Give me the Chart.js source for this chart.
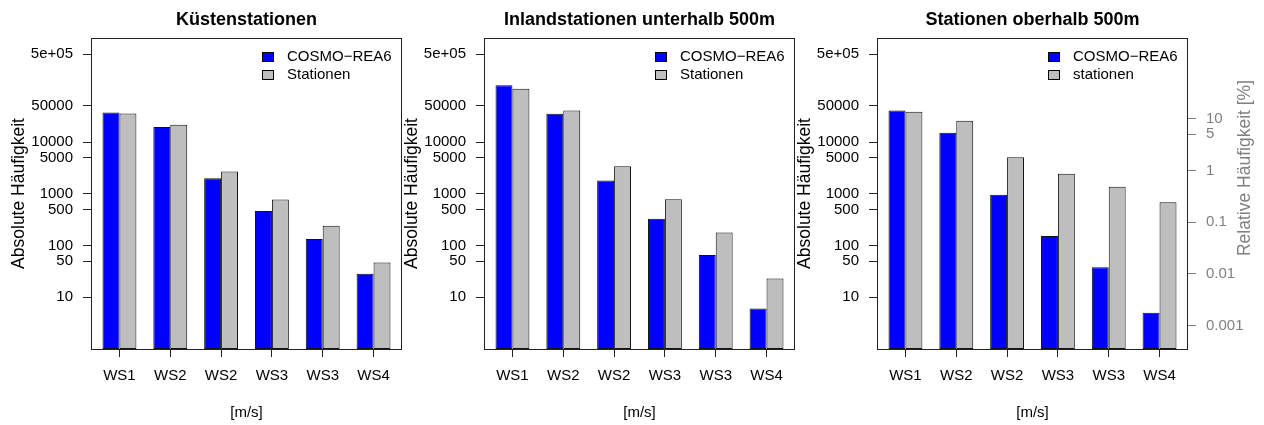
<!DOCTYPE html>
<html>
<head>
<meta charset="utf-8">
<script src="https://cdn.jsdelivr.net/npm/chart.js@4.4.1/dist/chart.umd.min.js"></script>
<style>
  body { margin: 0; background: #fff; }
  #wrap { position: relative; width: 1264px; height: 425px; }
  canvas { position: absolute; top: 0; }
</style>
</head>
<body>
<div id="wrap">
  <canvas id="kueste" width="410" height="425" style="left:0px"></canvas>
  <canvas id="inland" width="410" height="425" style="left:393px"></canvas>
  <canvas id="berg" width="478" height="425" style="left:786px"></canvas>
</div>
<script>
// wind speed classes on the x axis
const categories = ['WS1', 'WS2', 'WS2', 'WS3', 'WS3', 'WS4'];

// absolute counts per class
const kuesteCosmo = [37500, 19500, 2000, 465, 134, 28.5];
const kuesteStationen = [35800, 21600, 2700, 780, 242, 47];
const inlandCosmo = [126000, 35200, 1810, 328, 66, 6.1];
const inlandStationen = [107000, 40800, 3400, 790, 178, 23];
const bergCosmo = [41000, 15100, 960, 153, 38, 5];
const bergStationen = [38500, 25800, 5100, 2450, 1370, 685];

// ticks as in the R plot
const yTicks = [10, 50, 100, 500, 1000, 5000, 10000, 50000, 500000];
const yTickLabels = ['10', '50', '100', '500', '1000', '5000', '10000', '50000', '5e+05'];
const relTicks = [0.001, 0.01, 0.1, 1, 5, 10];
const relTickLabels = ['0.001', '0.01', '0.1', '1', '5', '10'];
const relFactor = 2830; // absolute count that equals 1 %

const FONT = '"Liberation Sans", Arial, Helvetica, sans-serif';
Chart.defaults.font.family = FONT;
Chart.defaults.color = '#000';

// frame around the plot region (R box())
const boxPlugin = {
  id: 'box',
  afterDraw(chart) {
    const a = chart.chartArea, ctx = chart.ctx;
    ctx.save();
    ctx.strokeStyle = '#222';
    ctx.lineWidth = 1;
    ctx.strokeRect(Math.round(a.left) + 0.5, Math.round(a.top) + 0.5,
      Math.round(a.width) - 1, Math.round(a.height));
    ctx.restore();
  }
};

// R style legend in the top right corner of the plot
const legendPlugin = {
  id: 'rlegend',
  afterDraw(chart) {
    const a = chart.chartArea, ctx = chart.ctx;
    ctx.save();
    ctx.font = '15px ' + FONT;
    ctx.textBaseline = 'middle';
    ctx.lineWidth = 1;
    chart.data.datasets.forEach((ds, i) => {
      const y = Math.round(a.top + 19 + i * 18);
      const x = Math.round(a.right - 140);
      ctx.fillStyle = ds.backgroundColor;
      ctx.fillRect(x, y - 5, 12, 10);
      ctx.strokeStyle = '#000';
      ctx.strokeRect(x + 0.5, y - 4.5, 11, 9);
      ctx.fillStyle = '#000';
      ctx.fillText(ds.label, a.right - 115, y);
    });
    ctx.restore();
  }
};

// right axis title, reading bottom to top like R's mtext(side = 4)
const relTitlePlugin = {
  id: 'reltitle',
  afterDraw(chart) {
    const s = chart.scales.rel, ctx = chart.ctx;
    if (!s) return;
    ctx.save();
    ctx.translate(s.left + 57, 168);
    ctx.rotate(-Math.PI / 2);
    ctx.font = '17.5px ' + FONT;
    ctx.fillStyle = '#808080';
    ctx.textAlign = 'center';
    ctx.textBaseline = 'middle';
    ctx.fillText('Relative Häufigkeit [%]', 0, 0);
    ctx.restore();
  }
};

function makePanel(id, title, cosmo, stationen, stationLabel, withRel) {
  const xPos = categories.map((c, i) => i + 1);
  const scales = {
    x: {
      type: 'linear',
      min: 0.44,
      max: 6.56,
      offset: false,
      border: { display: false },
      grid: { drawOnChartArea: false, tickLength: 8, color: '#222', offset: false },
      afterBuildTicks: axis => { axis.ticks = xPos.map(v => ({ value: v })); },
      ticks: { padding: 10, font: { size: 15 }, callback: (v, i) => categories[i] },
      title: { display: true, text: '[m/s]', font: { size: 15 }, padding: { top: 0, bottom: 3 } },
      afterFit: axis => { axis.height = 76; }
    },
    y: {
      type: 'logarithmic',
      position: 'left',
      min: 1,
      max: 1.03e6,
      border: { display: false },
      grid: { drawOnChartArea: false, tickLength: 8, color: '#222' },
      afterBuildTicks: axis => { axis.ticks = yTicks.map(v => ({ value: v })); },
      ticks: { autoSkip: false, padding: 10, font: { size: 15 }, callback: (v, i) => yTickLabels[i] },
      title: { display: true, text: 'Absolute Häufigkeit', font: { size: 17.5 }, padding: { top: 8.5, bottom: 0 } },
      afterFit: axis => { axis.width = 91; }
    }
  };
  if (withRel) {
    scales.rel = {
      type: 'logarithmic',
      position: 'right',
      min: 1 / relFactor,
      max: 1.03e6 / relFactor,
      border: { display: false },
      grid: { drawOnChartArea: false, tickLength: 8, color: '#808080' },
      afterBuildTicks: axis => { axis.ticks = relTicks.map(v => ({ value: v })); },
      ticks: { autoSkip: false, padding: 10, color: '#808080', font: { size: 15 }, callback: (v, i) => relTickLabels[i] },
      afterFit: axis => { axis.width = 76; }
    };
  }
  const bar = { borderColor: '#111', borderWidth: 1, borderSkipped: false, categoryPercentage: 2 / 3, barPercentage: 1 };
  return new Chart(document.getElementById(id), {
    type: 'bar',
    data: {
      datasets: [
        { ...bar, label: 'COSMO\u2212REA6', backgroundColor: '#0000ff', data: cosmo.map((v, i) => ({ x: xPos[i], y: v })) },
        { ...bar, label: stationLabel, backgroundColor: '#bebebe', data: stationen.map((v, i) => ({ x: xPos[i], y: v })) }
      ]
    },
    options: {
      responsive: false,
      animation: false,
      devicePixelRatio: 1,
      layout: { padding: { left: 0, right: withRel ? 0 : 8, top: 0, bottom: 0 } },
      plugins: {
        legend: { display: false },
        tooltip: { enabled: false },
        title: {
          display: true,
          text: title,
          fullSize: false,
          font: { size: 18, weight: 'bold' },
          color: '#000',
          padding: { top: 9.2, bottom: 7.2 }
        }
      },
      scales
    },
    plugins: [boxPlugin, legendPlugin, relTitlePlugin]
  });
}

makePanel('kueste', 'Küstenstationen', kuesteCosmo, kuesteStationen, 'Stationen', false);
makePanel('inland', 'Inlandstationen unterhalb 500m', inlandCosmo, inlandStationen, 'Stationen', false);
makePanel('berg', 'Stationen oberhalb 500m', bergCosmo, bergStationen, 'stationen', true);
</script>
</body>
</html>
